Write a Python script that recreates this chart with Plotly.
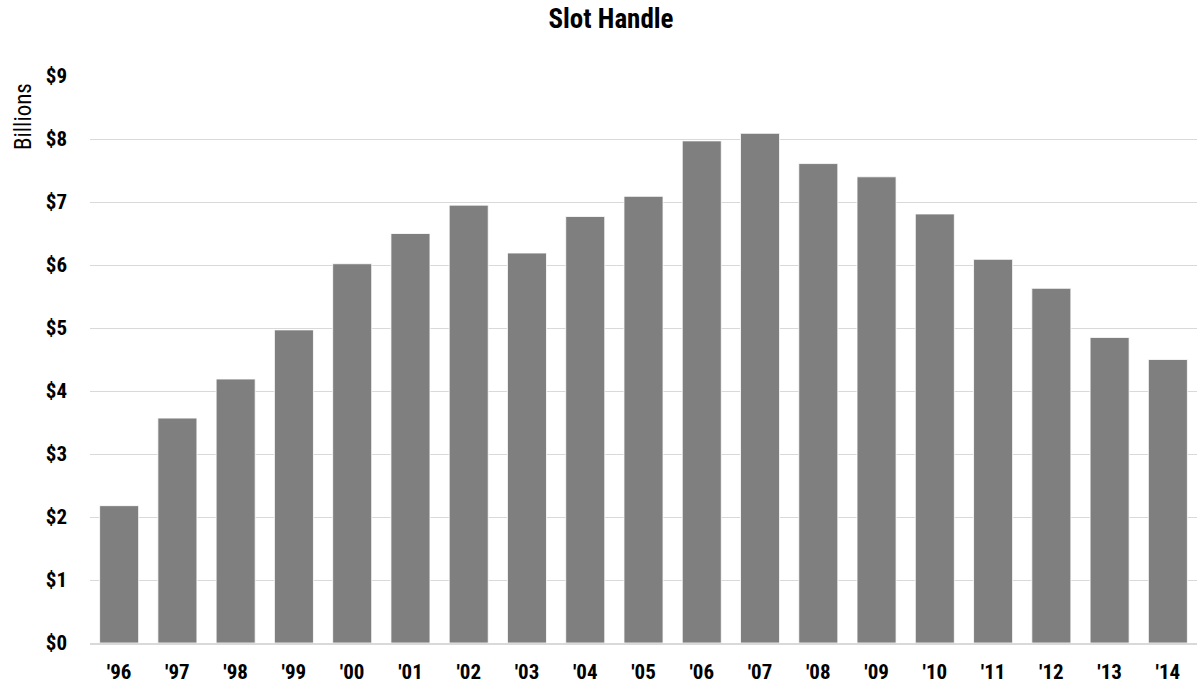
import plotly.graph_objects as go

years = ["'96", "'97", "'98", "'99", "'00", "'01", "'02", "'03", "'04", "'05",
         "'06", "'07", "'08", "'09", "'10", "'11", "'12", "'13", "'14"]
handle_billions = [2.18, 3.57, 4.19, 4.97, 6.02, 6.50, 6.95, 6.19, 6.77, 7.09,
                   7.97, 8.09, 7.61, 7.40, 6.81, 6.09, 5.63, 4.85, 4.50]
y_ticks = [0, 1, 2, 3, 4, 5, 6, 7, 8, 9]
y_tick_labels = ["$" + str(v) for v in y_ticks]

FONT = "Liberation Sans Narrow, Arial Narrow, Roboto Condensed, sans-serif"

W, H = 1201, 690
ML, MR, MT, MB = 90, 4, 76, 47
PW, PH = W - ML - MR, H - MT - MB

fig = go.Figure(go.Bar(
    x=years, y=handle_billions,
    marker=dict(color="#7f7f7f", line=dict(color="#ffffff", width=0.8)),
    hoverinfo="x+y",
))

fig.update_layout(
    width=W, height=H,
    margin=dict(l=ML, r=MR, t=MT, b=MB),
    paper_bgcolor="white", plot_bgcolor="white",
    bargap=0.33,
    showlegend=False,
    title=dict(text="<b>Slot Handle</b>", x=611 / W, xanchor="center",
               y=1 - 19 / H, yanchor="middle", yref="container",
               font=dict(family=FONT, size=27, color="#000000")),
    font=dict(family=FONT, color="#000000"),
    xaxis=dict(
        type="category", showgrid=False, showline=True, linecolor="#d9d9d9", linewidth=1.5,
        ticks="", tickfont=dict(family=FONT, size=21, color="#000000", weight="bold"),
        ticklabelstandoff=9, fixedrange=True,
    ),
    yaxis=dict(
        range=[0, 9], tickvals=y_ticks, ticktext=y_tick_labels,
        showgrid=True, gridcolor="#d9d9d9", gridwidth=1, zeroline=False,
        ticks="", tickfont=dict(family=FONT, size=21, color="#000000", weight="bold"),
        ticklabelstandoff=22, fixedrange=True,
    ),
    annotations=[dict(
        text="Billions", xref="paper", yref="paper",
        x=-(ML - 23) / PW, y=(PH - (117 - MT)) / PH, xanchor="center", yanchor="middle",
        textangle=-90, showarrow=False,
        font=dict(family=FONT, size=23, color="#000000"),
    )],
)

fig.write_html("out.html", config={"displayModeBar": False},
               post_script="document.body.style.margin='0';")
